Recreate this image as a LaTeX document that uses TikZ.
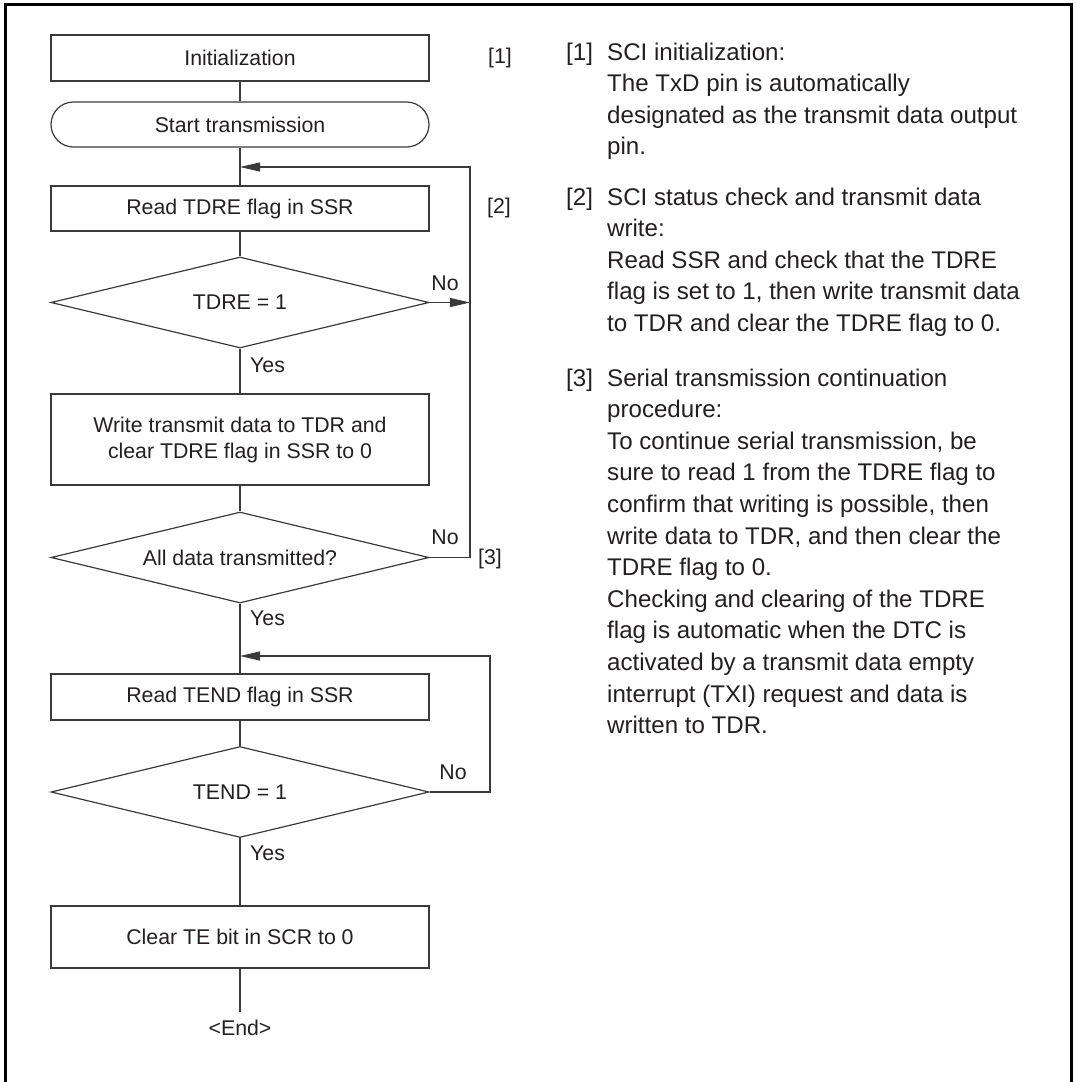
\documentclass[tikz,border=0pt]{standalone}
\usepackage{fontspec}
\setmainfont{Liberation Sans}
\usetikzlibrary{shapes.geometric,arrows.meta}
\definecolor{SciFrame}{HTML}{000000}
\definecolor{SciLine}{HTML}{3A3A3A}
\definecolor{SciText}{HTML}{231F20}

\begin{document}
\begin{tikzpicture}[x=1pt,y=-1pt,
    every node/.style={text=SciText,inner sep=0pt},
    flow/.style={font=\fontsize{21.3}{26}\selectfont},
    stepbox/.style={flow,draw=SciLine,line width=1.2pt,minimum width=378pt,minimum height=46pt,align=center},
    startbox/.style={stepbox,rounded corners=22.5pt},
    testbox/.style={flow,draw=SciLine,line width=1.2pt,diamond,aspect=4.2,minimum width=378pt,minimum height=91pt},
    link/.style={draw=SciLine,line width=1.1pt},
    tip/.style={-{Triangle[length=20pt,width=9pt]}},
    note/.style={font=\fontsize{24.1}{31.6}\selectfont,align=left}]
  \useasboundingbox (0,0) rectangle (1076,1082);
  \draw[SciFrame,line width=3pt] (5.5,1082) -- (5.5,4.5) -- (1071.5,4.5) -- (1071.5,1082);

  % flow
  \node[stepbox] (init) at (240,58) {Initialization};
  \node[startbox,minimum height=45pt] (start) at (240,124.5) {Start transmission};
  \node[stepbox,minimum height=45pt] (tdre) at (240,208.5) {Read TDRE flag in SSR};
  \node[testbox] (tdretest) at (240,302.5) {TDRE = 1};
  \node[stepbox,minimum height=91pt] (write) at (240,439.5) {Write transmit data to TDR and\\clear TDRE flag in SSR to 0};
  \node[testbox] (alltest) at (240,557.5) {All data transmitted?};
  \node[stepbox] (tend) at (240,697) {Read TEND flag in SSR};
  \node[testbox] (tendtest) at (240,792) {TEND = 1};
  \node[stepbox,minimum height=62pt] (clear) at (240,937) {Clear TE bit in SCR to 0};
  \node[flow,inner ysep=8pt] (finish) at (240,1028) {<End>};

  \coordinate (back1) at (240,167);
  \coordinate (side1) at (470,167);
  \coordinate (back2) at (240,656);
  \coordinate (side2) at (490,656);

  \draw[link] (init) -- (start);
  \draw[link] (start) -- (tdre);
  \draw[link] (tdre) -- (tdretest);
  \draw[link] (tdretest) -- (write);
  \draw[link] (write) -- (alltest);
  \draw[link] (alltest) -- (tend);
  \draw[link] (tend) -- (tendtest);
  \draw[link] (tendtest) -- (clear);
  \draw[link] (clear) -- (finish);
  \draw[link,tip] (tdretest.east) -- (tdretest.east -| side1);
  \draw[link,tip] (alltest.east) -- (alltest.east -| side1) -- (side1) -- (back1);
  \draw[link,tip] (tendtest.east) -- (tendtest.east -| side2) -- (side2) -- (back2);

  \node[flow,anchor=base west] (yes1) at (250,372) {Yes};
  \node[flow,anchor=base west] (yes2) at (250,625) {Yes};
  \node[flow,anchor=base west] (yes3) at (250,860) {Yes};
  \node[flow] (no1) at (445,283) {No};
  \node[flow] (no2) at (445,537) {No};
  \node[flow] (no3) at (453,772) {No};
  \node[flow] (mark1) at (500,58) {[1]};
  \node[flow] (mark2) at (499,208) {[2]};
  \node[flow] (mark3) at (490,559) {[3]};

  % notes
  \coordinate (col) at (607,0);
  \node[note,anchor=base west] (k1) at (566,60) {[1]};
  \node[note,anchor=north west] (n1) at (k1.north -| col) {SCI initialization:\\The TxD pin is automatically\\designated as the transmit data output\\pin.};
  \node[note,anchor=base west] (k2) at (566,205) {[2]};
  \node[note,anchor=north west] (n2) at (k2.north -| col) {SCI status check and transmit data\\write:\\Read SSR and check that the TDRE\\flag is set to 1, then write transmit data\\to TDR and clear the TDRE flag to 0.};
  \node[note,anchor=base west] (k3) at (566,386) {[3]};
  \node[note,anchor=north west] (n3) at (k3.north -| col) {Serial transmission continuation\\procedure:\\To continue serial transmission, be\\sure to read 1 from the TDRE flag to\\confirm that writing is possible, then\\write data to TDR, and then clear the\\TDRE flag to 0.\\Checking and clearing of the TDRE\\flag is automatic when the DTC is\\activated by a transmit data empty\\interrupt (TXI) request and data is\\written to TDR.};
\end{tikzpicture}
\end{document}
